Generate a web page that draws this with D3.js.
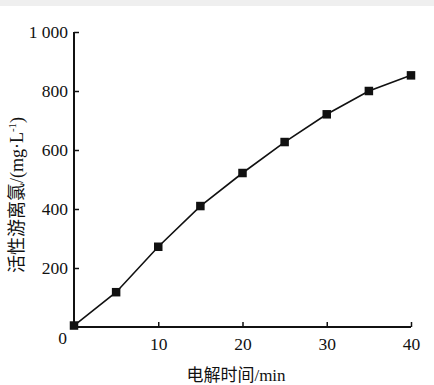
<!DOCTYPE html>
<html>
<head>
<meta charset="utf-8">
<script src="https://cdn.jsdelivr.net/npm/d3@7"></script>
<style>
  body { margin: 0; background: #fff; }
  svg { display: block; }
  .tick text { font-family: "Liberation Serif", "Times New Roman", serif; font-size: 17.5px; fill: #111; }
</style>
</head>
<body>
<div id="chart"></div>
<script>
// 电解时间 (min) 与 活性游离氯 (mg/L)
const times = [0, 5, 10, 15, 20, 25, 30, 35, 40];
const chlorine = [5, 118, 272, 410, 522, 627, 721, 800, 853];
const xTicks = [10, 20, 30, 40];
const yTicks = [0, 200, 400, 600, 800, 1000];

const width = 434, height = 385;
const margin = { top: 32, right: 23, bottom: 58, left: 74 };

const svg = d3.select("#chart")
  .append("svg")
  .attr("width", width)
  .attr("height", height);

// faint band at the very top of the picture
svg.append("rect")
  .attr("width", width)
  .attr("height", 6)
  .attr("fill", "#efefef");

const x = d3.scaleLinear()
  .domain([0, 40])
  .range([margin.left, width - margin.right]);

const y = d3.scaleLinear()
  .domain([0, 1000])
  .range([height - margin.bottom, margin.top]);

const fmt = (d) => d >= 1000 ? "1 000" : String(d);

// x axis
const gx = svg.append("g")
  .attr("transform", `translate(0,${y(0)})`)
  .call(d3.axisBottom(x).tickValues(xTicks).tickSize(-5).tickPadding(11));
gx.select(".domain").attr("stroke", "#111").attr("stroke-width", 2)
  .attr("d", `M${x(0)},0H${x(40)}`);
gx.selectAll(".tick line").attr("stroke", "#111").attr("stroke-width", 1.5);

// lone "0" at the origin corner
svg.append("text")
  .attr("x", x(0) - 7)
  .attr("y", y(0) + 17)
  .attr("text-anchor", "end")
  .style("font-family", "Liberation Serif, serif")
  .style("font-size", "17.5px")
  .attr("fill", "#111")
  .text("0");

// y axis
const gy = svg.append("g")
  .attr("transform", `translate(${x(0)},0)`)
  .call(d3.axisLeft(y).tickValues(yTicks.filter(d => d > 0)).tickFormat(fmt).tickSize(-5).tickPadding(6));
gy.select(".domain").attr("stroke", "#111").attr("stroke-width", 2)
  .attr("d", `M0,${y(0)}V${y(1000)}`);
gy.selectAll(".tick line").attr("stroke", "#111").attr("stroke-width", 1.5);

// line
const pts = times.map((t, i) => [t, chlorine[i]]);
svg.append("path")
  .datum(pts)
  .attr("fill", "none")
  .attr("stroke", "#111")
  .attr("stroke-width", 1.6)
  .attr("d", d3.line().x(d => x(d[0])).y(d => y(d[1])));

// square markers
const s = 8.5;
svg.selectAll("rect.m")
  .data(pts)
  .enter()
  .append("rect")
  .attr("class", "m")
  .attr("x", d => x(d[0]) - s / 2)
  .attr("y", d => y(d[1]) - s / 2)
  .attr("width", s)
  .attr("height", s)
  .attr("fill", "#111");

// axis titles
svg.append("text")
  .attr("x", 236)
  .attr("y", 381)
  .attr("text-anchor", "middle")
  .attr("fill", "#111")
  .style("font-size", "17px")
  .html('<tspan style="font-family:\'Noto Sans CJK SC\'">电解时间</tspan><tspan style="font-family:\'Liberation Serif\',serif">/min</tspan>');

svg.append("text")
  .attr("transform", "translate(23,195) rotate(-90)")
  .attr("text-anchor", "middle")
  .attr("fill", "#111")
  .style("font-size", "18px")
  .html('<tspan style="font-family:\'Noto Sans CJK SC\'">活性游离氯</tspan><tspan style="font-family:\'Liberation Serif\',serif">/(mg·L</tspan><tspan style="font-family:\'Liberation Serif\',serif;font-size:11px" dy="-7">-1</tspan><tspan style="font-family:\'Liberation Serif\',serif" dy="7">)</tspan>');
</script>
</body>
</html>
